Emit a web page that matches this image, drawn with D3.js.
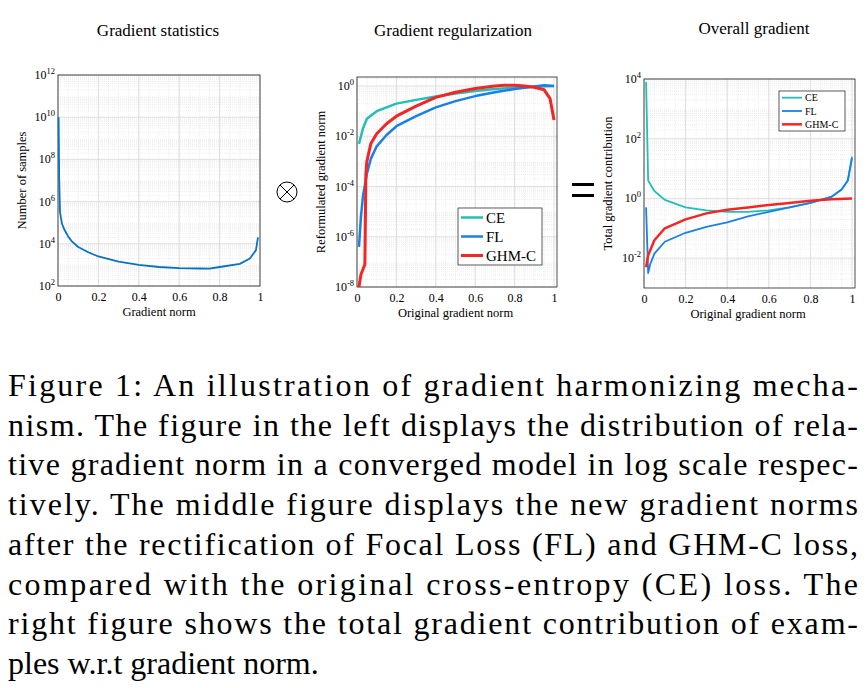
<!DOCTYPE html>
<html><head><meta charset="utf-8">
<script src="https://cdn.jsdelivr.net/npm/d3@7"></script>
<style>body{margin:0;background:#fff}text{font-family:"Liberation Serif","Times New Roman",Times,"Tinos",serif}</style>
</head><body><svg id="c" width="866" height="688"></svg>
<script>
// data (log10 values)
var statX = [0.003,0.006,0.01,0.015,0.02,0.03,0.05,0.07,0.1,0.15,0.2,0.3,0.4,0.5,0.6,0.7,0.75,0.8,0.9,0.95,0.98,0.99];
var statY = [10,7,5.5,5.2,4.95,4.7,4.35,4.1,3.85,3.6,3.4,3.15,3.0,2.9,2.85,2.83,2.82,2.9,3.05,3.3,3.7,4.3];

var regCE = [[0.01,-2.3],[0.03,-1.7],[0.05,-1.3],[0.1,-1.0],[0.2,-0.7],[0.3,-0.55],[0.4,-0.42],[0.5,-0.3],[0.6,-0.2],[0.7,-0.12],[0.8,-0.07],[0.9,-0.03],[1.0,0]];
var regFL = [[0.01,-6.4],[0.02,-5.2],[0.03,-4.4],[0.05,-3.5],[0.07,-2.9],[0.1,-2.4],[0.15,-1.95],[0.2,-1.6],[0.3,-1.2],[0.4,-0.85],[0.5,-0.6],[0.6,-0.4],[0.7,-0.25],[0.8,-0.12],[0.9,-0.02],[0.95,0.03],[1.0,0]];
var regGHM = [[0.01,-8.1],[0.02,-7.5],[0.04,-7.1],[0.045,-3.5],[0.05,-3.0],[0.07,-2.3],[0.1,-1.9],[0.15,-1.5],[0.2,-1.2],[0.3,-0.8],[0.4,-0.45],[0.5,-0.25],[0.6,-0.1],[0.7,0.0],[0.75,0.03],[0.8,0.03],[0.85,0.0],[0.9,-0.05],[0.95,-0.15],[0.98,-0.5],[1.0,-1.35]];

var totCE = [[0.01,3.9],[0.02,0.6],[0.05,0.25],[0.1,-0.05],[0.2,-0.3],[0.3,-0.4],[0.4,-0.45],[0.5,-0.45],[0.6,-0.4],[0.7,-0.3],[0.8,-0.15],[0.9,0.05],[0.95,0.3],[0.98,0.6],[1.0,1.4]];
var totFL = [[0.01,-0.3],[0.02,-2.5],[0.03,-2.2],[0.05,-1.85],[0.1,-1.45],[0.2,-1.15],[0.3,-0.95],[0.4,-0.8],[0.5,-0.6],[0.6,-0.45],[0.7,-0.3],[0.8,-0.15],[0.9,0.05],[0.95,0.3],[0.98,0.6],[1.0,1.35]];
var totGHM = [[0.01,-2.3],[0.02,-1.9],[0.05,-1.4],[0.1,-1.0],[0.2,-0.7],[0.3,-0.5],[0.4,-0.38],[0.5,-0.3],[0.6,-0.22],[0.7,-0.15],[0.8,-0.08],[0.9,-0.03],[1.0,0]];

var xTicks = [0,0.2,0.4,0.6,0.8,1];
var caption = [
 "Figure 1: An illustration of gradient harmonizing mecha-",
 "nism. The figure in the left displays the distribution of rela-",
 "tive gradient norm in a converged model in log scale respec-",
 "tively. The middle figure displays the new gradient norms",
 "after the rectification of Focal Loss (FL) and GHM-C loss,",
 "compared with the original cross-entropy (CE) loss. The",
 "right figure shows the total gradient contribution of exam-",
 "ples w.r.t gradient norm."
];
var colCE = '#22bfb5', colFL = '#1a80e6', colGHM = '#f42525';

var svg = d3.select('#c');

function panel(o){
  var g = svg.append('g');
  var x = d3.scaleLinear().domain([0,1]).range([o.x0,o.x1]);
  var y = d3.scaleLinear().domain(o.ydom).range([o.y1,o.y0]);
  // minor grid
  for(var d=Math.floor(o.ydom[0]); d<o.ydom[1]; d++){
    for(var k=2;k<10;k++){
      var v = d+Math.log10(k);
      if(v<=o.ydom[0]||v>=o.ydom[1]) continue;
      g.append('line').attr('x1',o.x0).attr('x2',o.bx1).attr('y1',y(v)).attr('y2',y(v))
        .attr('stroke','#ddd').attr('stroke-width',0.5).attr('stroke-dasharray','1,1');
    }
  }
  d3.range(0.05,1.0,0.05).forEach(function(t){
    g.append('line').attr('x1',x(t)).attr('x2',x(t)).attr('y1',o.y0).attr('y2',o.y1)
      .attr('stroke','#ddd').attr('stroke-width',0.5).attr('stroke-dasharray','1,1');
  });
  // major grid
  xTicks.forEach(function(t){
    g.append('line').attr('x1',x(t)).attr('x2',x(t)).attr('y1',o.y0).attr('y2',o.y1).attr('stroke','#d8d8d8').attr('stroke-width',0.8);
  });
  o.yt.forEach(function(t){
    g.append('line').attr('x1',o.x0).attr('x2',o.bx1).attr('y1',y(t)).attr('y2',y(t)).attr('stroke','#d8d8d8').attr('stroke-width',0.8);
  });
  // box
  g.append('rect').attr('x',o.x0).attr('y',o.y0).attr('width',o.bx1-o.x0).attr('height',o.y1-o.y0)
    .attr('fill','none').attr('stroke','#222').attr('stroke-width',0.8);
  // ticks
  var xa = g.append('g').attr('transform','translate(0,'+o.y1+')')
    .call(d3.axisBottom(x).tickValues(xTicks).tickSize(0).tickPadding(6).tickFormat(function(d){return d===0||d===1?d:d3.format('.1f')(d);}));
  xa.select('.domain').remove();
  xa.selectAll('text').attr('font-size',12).attr('font-family',null);
  o.yt.forEach(function(t){
    var tx = g.append('text').attr('x',o.x0-3).attr('y',y(t)+4).attr('text-anchor','end').attr('font-size',12);
    tx.append('tspan').text('10');
    tx.append('tspan').attr('dy',-5).attr('font-size',8.5).text(t);
  });
  g.append('text').attr('x',(o.x0+o.x1)/2).attr('y',o.y1+30).attr('text-anchor','middle').attr('font-size',12.5).text(o.xl);
  g.append('text').attr('transform','translate('+(o.x0-32)+','+((o.y0+o.y1)/2)+') rotate(-90)')
    .attr('text-anchor','middle').attr('font-size',12.5).text(o.yl);
  g.append('text').attr('x',o.tx).attr('y',o.ty).attr('text-anchor','middle').attr('font-size',17).text(o.title);
  var line = d3.line().x(function(d){return x(d[0]);}).y(function(d){return y(Math.max(o.ydom[0],d[1]));});
  o.series.forEach(function(s){
    g.append('path').datum(s.d).attr('d',line).attr('fill','none').attr('stroke',s.c).attr('stroke-width',s.w).attr('stroke-linejoin','round');
  });
  if(o.leg){
    var L=o.leg;
    g.append('rect').attr('x',L.x).attr('y',L.y).attr('width',L.w).attr('height',L.h).attr('fill','#fff').attr('stroke','#333').attr('stroke-width',0.8);
    o.series.forEach(function(s,i){
      var yy = L.y+L.h*(i+0.5)/3;
      g.append('line').attr('x1',L.x+3).attr('x2',L.x+3+L.ll).attr('y1',yy).attr('y2',yy).attr('stroke',s.c).attr('stroke-width',s.w);
      g.append('text').attr('x',L.x+6+L.ll).attr('y',yy+L.fs*0.35).attr('font-size',L.fs).text(s.n);
    });
  }
}

panel({x0:58,x1:260,bx1:260,y0:75,y1:286,ydom:[2,12],yt:[2,4,6,8,10,12],
  xl:'Gradient norm',yl:'Number of samples',title:'Gradient statistics',tx:158,ty:36,
  series:[{d:statX.map(function(v,i){return [v,statY[i]];}),c:'#0a72be',w:1.8,n:''}]});

panel({x0:357,x1:554,bx1:557,y0:77,y1:287,ydom:[-8,0.36],yt:[-8,-6,-4,-2,0],
  xl:'Original gradient norm',yl:'Reformulated gradient norm',title:'Gradient regularization',tx:453,ty:36,
  series:[{d:regCE,c:colCE,w:2.5,n:'CE'},{d:regFL,c:colFL,w:2.5,n:'FL'},{d:regGHM,c:colGHM,w:3,n:'GHM-C'}],
  leg:{x:458,y:208,w:84,h:57,ll:22,fs:15}});

panel({x0:644,x1:852,bx1:855,y0:79,y1:288,ydom:[-3,4],yt:[-2,0,2,4],
  xl:'Original gradient norm',yl:'Total gradient contribution',title:'Overall gradient',tx:754,ty:34,
  series:[{d:totCE,c:colCE,w:1.8,n:'CE'},{d:totFL,c:colFL,w:1.8,n:'FL'},{d:totGHM,c:colGHM,w:2.5,n:'GHM-C'}],
  leg:{x:779,y:91,w:66,h:40,ll:20,fs:10}});

// operators
svg.append('circle').attr('cx',287).attr('cy',192).attr('r',10).attr('fill','none').attr('stroke','#000').attr('stroke-width',1);
svg.append('line').attr('x1',280).attr('y1',185).attr('x2',294).attr('y2',199).attr('stroke','#000');
svg.append('line').attr('x1',294).attr('y1',185).attr('x2',280).attr('y2',199).attr('stroke','#000');
svg.append('rect').attr('x',572).attr('y',183).attr('width',22).attr('height',3).attr('fill','#000');
svg.append('rect').attr('x',572).attr('y',194).attr('width',22).attr('height',3).attr('fill','#000');

// caption
caption.forEach(function(t,i){
  var tx = svg.append('text').attr('x',8).attr('y',396+i*39.7).attr('font-size',32).text(t);
  if(i<caption.length-1) tx.attr('textLength',850).attr('lengthAdjust','spacing');
});
</script></body></html>
